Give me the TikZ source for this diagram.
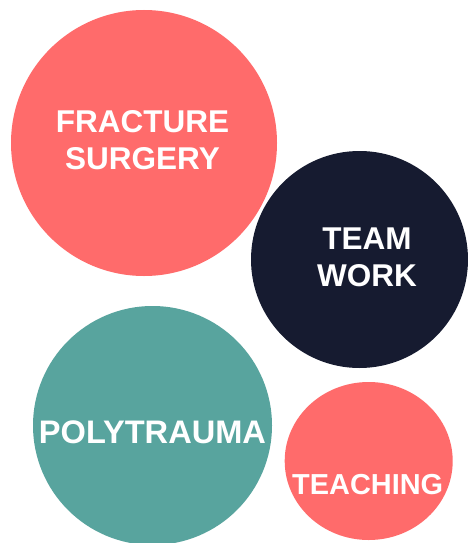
\documentclass[tikz,border=0pt]{standalone}
\usepackage{fontspec}
\setmainfont{Liberation Sans}[BoldFont={Liberation Sans Bold}]
\usetikzlibrary{shapes.geometric}
\definecolor{coral}{RGB}{255,107,107}
\definecolor{navy}{RGB}{22,27,48}
\definecolor{teal2}{RGB}{88,164,158}
\tikzset{
  blob/.style={circle, inner sep=0pt, draw=none},
  lbl/.style={text=white, align=center, font=\bfseries\fontsize{31.5}{36.7}\selectfont, inner sep=0pt}
}
\begin{document}
\begin{tikzpicture}[x=1pt,y=-1pt]
\fill[white] (0,0) rectangle (467,543);
\useasboundingbox (0,0) rectangle (467,543);
\node[blob, fill=coral, minimum size=266pt] (fs) at (144,143) {};
\node[blob, fill=navy, minimum size=217pt] (tw) at (359.5,259.5) {};
\node[blob, fill=teal2, minimum size=239pt] (pt) at (152.5,425.5) {};
\node[ellipse, inner sep=0pt, fill=coral, minimum width=168pt, minimum height=158pt] (te) at (368.7,461) {};
\node[lbl] (fst) at (142.5,140.5) {FRACTURE\\SURGERY};
\node[lbl] (twt) at (367,257) {TEAM\\WORK};
\node[lbl, font=\bfseries\fontsize{32.6}{38}\selectfont] (ptt) at (152.5,432.2) {POLYTRAUMA};
\node[lbl, font=\bfseries\fontsize{28.9}{34}\selectfont] (tet) at (367.7,484.7) {TEACHING};
\end{tikzpicture}
\end{document}
